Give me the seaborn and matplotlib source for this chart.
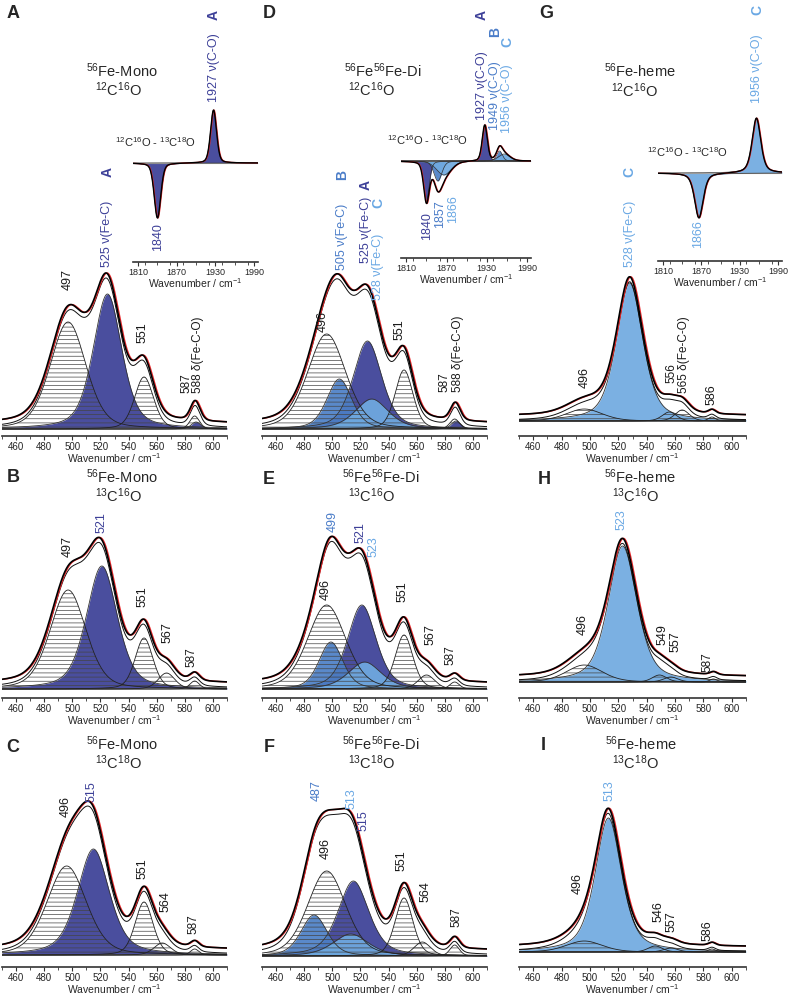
import numpy as np
import matplotlib
matplotlib.use('Agg')
import matplotlib.pyplot as plt
from matplotlib.ticker import MultipleLocator
import seaborn as sns

# ---------------- data (band centre cm-1, height a.u., fwhm cm-1, lorentz fraction, band) ----------------
# 'h' = hatched (non Fe-CO) band, 'A'/'B'/'C' = Fe-CO species
peaks_A = [(497, 107, 30, 0.3, 'h'), (525, 135, 24, 0.45, 'A'), (551, 52, 16, 0.3, 'h'),
           (587, 13, 8, 0.3, 'h'), (588, 7, 8, 0.3, 'A')]
peaks_B = [(497, 99, 30, 0.3, 'h'), (521, 123, 26, 0.45, 'A'), (551, 51, 15, 0.3, 'h'),
           (567, 16, 14, 0.3, 'h'), (587, 8, 8, 0.3, 'h')]
peaks_C = [(496, 89, 33, 0.3, 'h'), (515, 106, 27, 0.5, 'A'), (551, 53, 15, 0.3, 'h'),
           (564, 12, 14, 0.3, 'h'), (587, 6, 7, 0.3, 'h')]
peaks_D = [(496, 95, 32, 0.3, 'h'), (505, 50, 21, 0.4, 'B'), (525, 88, 24, 0.45, 'A'),
           (528, 30, 28, 0.5, 'C'), (551, 59, 15, 0.3, 'h'), (587, 10, 8, 0.3, 'h'),
           (588, 8, 8, 0.3, 'A')]
peaks_E = [(496, 84, 32, 0.3, 'h'), (499, 47, 20, 0.4, 'B'), (521, 84, 24, 0.45, 'A'),
           (523, 27, 28, 0.5, 'C'), (551, 54, 15, 0.3, 'h'), (567, 14, 14, 0.3, 'h'),
           (587, 7, 8, 0.3, 'h')]
peaks_F = [(496, 85, 32, 0.3, 'h'), (487, 41, 22, 0.4, 'B'), (515, 75, 26, 0.5, 'A'),
           (513, 22, 30, 0.5, 'C'), (551, 58, 15, 0.3, 'h'), (564, 14, 14, 0.3, 'h'),
           (587, 11, 8, 0.3, 'h')]
peaks_G = [(528, 138, 22, 0.5, 'C'), (496, 12, 30, 0.3, 'h'), (556, 9, 12, 0.3, 'h'),
           (565, 11, 12, 0.3, 'h'), (586, 4, 6, 0.3, 'h')]
peaks_H = [(523, 136, 24, 0.5, 'C'), (496, 17, 30, 0.3, 'h'), (549, 7, 12, 0.3, 'h'),
           (557, 5, 12, 0.3, 'h'), (587, 3, 6, 0.3, 'h')]
peaks_I = [(513, 134, 22, 0.55, 'C'), (496, 11, 30, 0.3, 'h'), (546, 6, 12, 0.3, 'h'),
           (557, 4, 12, 0.3, 'h'), (586, 3, 6, 0.3, 'h')]

# IR difference spectra 12C16O - 13C18O
ir_A = [(1840, -55, 12, 0.3, 'A'), (1927, 53, 11, 0.3, 'A')]
ir_D = [(1840, -40, 10, 0.3, 'A'), (1857, -20, 14, 0.3, 'B'), (1866, -14, 26, 0.3, 'C'),
        (1927, 36, 9, 0.3, 'A'), (1949, 10, 10, 0.3, 'B'), (1956, 7, 20, 0.3, 'C')]
ir_G = [(1866, -45, 16, 0.5, 'C'), (1956, 55, 16, 0.5, 'C')]

samples = ['$^{56}$Fe-Mono', '$^{56}$Fe$^{56}$Fe-Di', '$^{56}$Fe-heme']
isotopes = ['$^{12}$C$^{16}$O', '$^{13}$C$^{16}$O', '$^{13}$C$^{18}$O']
panel_letters = [['A', 'B', 'C'], ['D', 'E', 'F'], ['G', 'H', 'I']]

colA, colB, colC = '#4a4e9e', '#4c7fc6', '#70aae0'
txtA, txtB, txtC = '#3d4098', '#4a7cc8', '#6aa8e4'
fill = {'A': colA, 'B': colB, 'C': colC}

# peak labels: (x, height of text bottom, text, colour)
labels = {
    'A': [(497, 139, '497', 'k'), (525, 162, '525 ν(Fe-C)', txtA), (550, 86, '551', 'k'),
          (581, 36, '587', 'k'), (589.5, 36, '588 δ(Fe-C-O)', 'k')],
    'B': [(497, 132, '497', 'k'), (521, 156, '521', txtA), (550, 82, '551', 'k'),
          (568, 46, '567', 'k'), (585, 22, '587', 'k')],
    'C': [(495, 138, '496', 'k'), (514, 153, '515', txtA), (550, 76, '551', 'k'),
          (566, 43, '564', 'k'), (586, 21, '587', 'k')],
    'D': [(493, 97, '496', 'k'), (507, 159, '505 ν(Fe-C)', txtB), (524, 166, '525 ν(Fe-C)', txtA),
          (532.5, 129, '528 ν(Fe-C)', txtC), (548, 89, '551', 'k'), (580, 37, '587', 'k'),
          (589.5, 37, '588 δ(Fe-C-O)', 'k')],
    'E': [(500.5, 157, '499', txtB), (520, 146, '521', txtA), (529, 132, '523', txtC),
          (495, 89, '496', 'k'), (550, 87, '551', 'k'), (569.5, 44, '567', 'k'), (584, 24, '587', 'k')],
    'F': [(489, 155, '487', txtB), (514, 147, '513', txtC), (522, 125, '515', txtA),
          (495, 97, '496', 'k'), (549.5, 85, '551', 'k'), (566, 54, '564', 'k'), (588.6, 29, '587', 'k')],
    'G': [(528, 154, '528 ν(Fe-C)', txtC), (496.5, 33, '496', 'k'), (557.2, 38, '556', 'k'),
          (566.2, 28, '565 δ(Fe-C-O)', 'k'), (586, 16, '586', 'k')],
    'H': [(522.5, 152, '523', txtC), (495, 47, '496', 'k'), (551.5, 37, '549', 'k'),
          (560, 30, '557', 'k'), (583, 10, '587', 'k')],
    'I': [(514, 151, '513', txtC), (491.5, 58, '496', 'k'), (548, 30, '546', 'k'),
          (557.7, 20, '557', 'k'), (583, 11, '586', 'k')],
}
letters = {'A': [(525, 257, 'A', txtA)],
           'D': [(507, 254, 'B', txtB), (524, 244, 'A', txtA), (532.5, 226, 'C', txtC)],
           'G': [(528, 249, 'C', txtC)]}

ir_labels = {
    'A': [(1927, 61, '1927 ν(C-O)', txtA), (1841, -60, '1840', txtA)],
    'D': [(1923, 41, '1927 ν(C-O)', txtA), (1943, 31, '1949 ν(C-O)', txtB), (1960, 28, '1956 ν(C-O)', txtC),
          (1841, -51, '1840', txtA), (1860, -39, '1857', txtB), (1880, -34, '1866', txtC)],
    'G': [(1957, 70, '1956 ν(C-O)', txtC), (1865, -47, '1866', txtC)],
}
ir_letters = {'A': [(1927, 148, 'A', txtA)],
              'D': [(1923, 146, 'A', txtA), (1943, 129, 'B', txtB), (1960, 119, 'C', txtC)],
              'G': [(1957, 163, 'C', txtC)]}

# ---------------- style ----------------
sns.set_theme(style='white')
plt.rcParams['font.family'] = ['Liberation Sans', 'DejaVu Sans']
plt.rcParams['mathtext.fontset'] = 'custom'
plt.rcParams['mathtext.rm'] = 'Liberation Sans'
plt.rcParams['mathtext.it'] = 'Liberation Sans:italic'
plt.rcParams['mathtext.bf'] = 'Liberation Sans:bold'
plt.rcParams['mathtext.default'] = 'regular'
plt.rcParams['hatch.linewidth'] = 0.5

W, H = 790, 996
fig = plt.figure(figsize=(W / 100, H / 100), dpi=100)


def box(l, t, r, b):
    return [l / W, 1 - b / H, (r - l) / W, (b - t) / H]


def band(x, c, h, w, eta):
    lor = 1 / (1 + ((x - c) / (w / 2)) ** 2)
    gau = np.exp(-4 * np.log(2) * ((x - c) / w) ** 2)
    return h * (eta * lor + (1 - eta) * gau)


def draw_bands(ax, x, peaks, lw=0.6):
    total = np.zeros_like(x)
    for c, h, w, eta, kind in peaks:
        total += band(x, c, h, w, eta)
    # blue species first, hatched bands over them
    for kind in ['A', 'B', 'C']:
        for c, h, w, eta, k in peaks:
            if k != kind:
                continue
            y = band(x, c, h, w, eta)
            ax.fill_between(x, 0, y, color=fill[k], alpha=0.92 if k != 'A' else 1, lw=0)
            ax.plot(x, y, color='#333333', lw=lw)
    for c, h, w, eta, k in peaks:
        if k != 'h':
            continue
        y = band(x, c, h, w, eta)
        ax.fill_between(x, 0, y, facecolor='none', edgecolor='#444444', hatch='----', lw=0)
        ax.plot(x, y, color='#222222', lw=lw)
    return total


def clean(ax):
    ax.set_facecolor('none')
    for s in ['left', 'right', 'top']:
        ax.spines[s].set_visible(False)
    ax.spines['bottom'].set_linewidth(1.2)
    ax.spines['bottom'].set_color('#333333')
    ax.set_yticks([])
    ax.tick_params(axis='x', which='major', direction='out', length=3, width=0.8,
                   color='#333333', pad=1, bottom=True)
    ax.tick_params(axis='x', which='minor', direction='out', length=2, width=0.6,
                   color='#333333', bottom=True)


all_peaks = [[peaks_A, peaks_B, peaks_C], [peaks_D, peaks_E, peaks_F], [peaks_G, peaks_H, peaks_I]]
col_l = [2, 262, 519]
col_r = [227, 487, 746]
row_axis = [436, 698, 967]
base = [[429, 689, 955], [429, 689, 956], [421, 682, 952]]
AX_H = 260
GAP = 5

x = np.linspace(450, 610, 801)
for c in range(3):
    for r in range(3):
        ax = fig.add_axes(box(col_l[c], row_axis[r] - AX_H, col_r[c], row_axis[r]))
        clean(ax)
        off = row_axis[r] - base[c][r]
        ax.set_xlim(450, 610)
        ax.set_ylim(-off, AX_H - off)
        ax.set_xticks(range(460, 601, 20))
        ax.xaxis.set_minor_locator(MultipleLocator(10))
        ax.tick_params(axis='x', labelsize=7)
        ax.set_xlabel('Wavenumber / cm$^{-1}$', fontsize=7.5, labelpad=0)

        ax.plot([450, 610], [0, 0], color='#999999', lw=1.4)
        total = draw_bands(ax, x, all_peaks[c][r])
        ax.plot(x, total, color='#111111', lw=0.7)
        sns.lineplot(x=x + 0.8, y=total + GAP, ax=ax, color='#e8282b', linewidth=1.0)
        sns.lineplot(x=x, y=total + GAP, ax=ax, color='black', linewidth=1.2)

        key = panel_letters[c][r]
        for lx, ly, t, col in labels[key]:
            ax.text(lx, ly, t, rotation=90, ha='center', va='bottom', color=col,
                    fontsize=8.5 if 'δ' in t or t in ('587', '556') else 9, clip_on=False)
        for lx, ly, t, col in letters.get(key, []):
            ax.text(lx, ly, t, rotation=90, ha='center', va='center', color=col,
                    fontsize=10, fontweight='bold', clip_on=False)

# ---------------- insets ----------------
ir_sets = [ir_A, ir_D, ir_G]
ir_keys = ['A', 'D', 'G']
ins_l = [133, 401, 658]
ins_r = [258, 531, 782]
ins_tick = [262, 258, 261]
ins_base = [163, 161, 173]
xi = np.linspace(1802, 1996, 800)
for c in range(3):
    ax = fig.add_axes(box(ins_l[c], 0, ins_r[c], ins_tick[c]))
    clean(ax)
    ax.set_xlim(1802, 1996)
    ax.set_ylim(-(ins_tick[c] - ins_base[c]), ins_base[c])
    ax.set_xticks([1810, 1870, 1930, 1990])
    ax.xaxis.set_minor_locator(MultipleLocator(20))
    ax.tick_params(axis='x', labelsize=6.5)
    ax.set_xlabel('Wavenumber / cm$^{-1}$', fontsize=7.5, labelpad=0)
    ax.plot([1802, 1996], [0, 0], color='#aaaaaa', lw=0.8)
    tot = draw_bands(ax, xi, ir_sets[c], lw=0.5)
    sns.lineplot(x=xi + 0.8, y=tot, ax=ax, color='#e8282b', linewidth=0.9)
    sns.lineplot(x=xi, y=tot, ax=ax, color='black', linewidth=1.0)
    key = ir_keys[c]
    for lx, ly, t, col in ir_labels[key]:
        ax.text(lx, ly, t, rotation=90, ha='center', va='bottom' if ly > 0 else 'top',
                color=col, fontsize=9, clip_on=False)
    for lx, ly, t, col in ir_letters[key]:
        ax.text(lx, ly, t, rotation=90, ha='center', va='center', color=col,
                fontsize=10, fontweight='bold', clip_on=False)

# ---------------- figure texts ----------------
diff_label = '$^{12}$C$^{16}$O - $^{13}$C$^{18}$O'
for px, py in [(115, 142), (387, 140), (647, 152)]:
    fig.text(px / W, 1 - py / H, diff_label, fontsize=8, ha='left', va='center')

letter_pos = [[(13, 13), (13, 477), (13, 747)], [(269, 13), (269, 480), (269, 747)],
              [(546, 13), (544, 480), (543, 745)]]
# (line 1 x, baseline, line 2 x, baseline)
title_pos = [[(122, 77, 119, 96), (122, 483, 119, 502), (122, 750, 119, 769)],
             [(383, 77, 372, 96), (381, 483, 372, 502), (381, 750, 372, 769)],
             [(640, 77, 635, 97), (640, 483, 636, 502), (641, 750, 636, 769)]]
for c in range(3):
    for r in range(3):
        lx, ly = letter_pos[c][r]
        fig.text(lx / W, 1 - ly / H, panel_letters[c][r], fontsize=13, fontweight='bold',
                 ha='center', va='center')
        t1x, t1y, t2x, t2y = title_pos[c][r]
        fig.text(t1x / W, 1 - t1y / H, samples[c], fontsize=10.5, ha='center', va='baseline')
        fig.text(t2x / W, 1 - t2y / H, isotopes[r], fontsize=10.5, ha='center', va='baseline')

fig.savefig('out.png', dpi=100)
